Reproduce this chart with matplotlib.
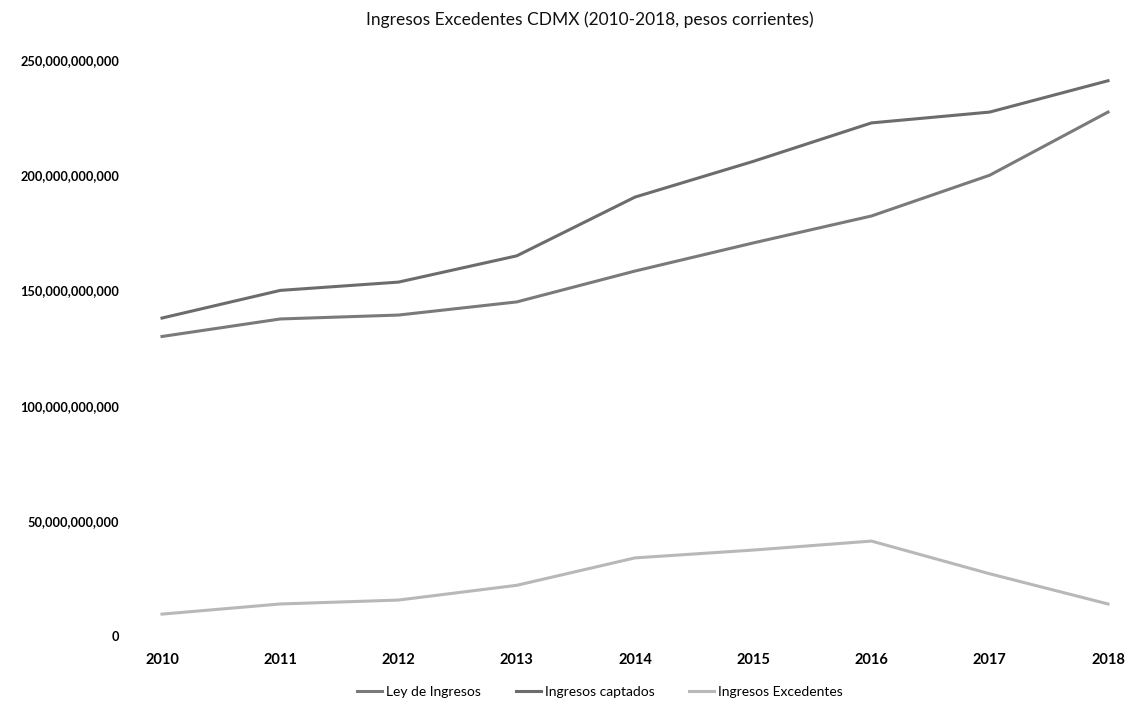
import matplotlib.pyplot as plt
from matplotlib.ticker import FuncFormatter

plt.rcParams['font.family'] = ['Lato', 'DejaVu Sans']

years = [2010, 2011, 2012, 2013, 2014, 2015, 2016, 2017, 2018]
ley_ingresos = [130.0, 137.6, 139.3, 145.0, 158.4, 170.6, 182.3, 200.0, 227.4]
ingresos_captados = [138.0, 150.0, 153.6, 165.0, 190.5, 206.0, 222.7, 227.4, 241.0]
ingresos_excedentes = [9.5, 13.9, 15.6, 22.0, 33.9, 37.3, 41.2, 27.0, 13.9]

# values in miles de millones
to_pesos = 1e9

fig = plt.figure(figsize=(11.29, 7.06), dpi=100)
ax = fig.add_axes([162/1129, 1 - 636/706, (1108 - 162)/1129, (636 - 60)/706])

ax.plot(years, [v*to_pesos for v in ley_ingresos], color="#7a7a7a", lw=2.2,
        label="Ley de Ingresos", clip_on=False)
ax.plot(years, [v*to_pesos for v in ingresos_captados], color="#6c6c6c", lw=2.2,
        label="Ingresos captados", clip_on=False)
ax.plot(years, [v*to_pesos for v in ingresos_excedentes], color="#b8b8b8", lw=2.2,
        label="Ingresos Excedentes", clip_on=False)

ax.set_xlim(2010, 2018)
ax.set_ylim(0, 250e9)
ax.set_xticks(years)
ax.set_yticks([0, 50e9, 100e9, 150e9, 200e9, 250e9])
ax.yaxis.set_major_formatter(FuncFormatter(lambda v, p: f"{int(v):,}"))
ax.tick_params(length=0)
ax.tick_params(axis='y', pad=31, labelsize=9.2)
ax.tick_params(axis='x', pad=12, labelsize=10.5)
for lab in ax.get_xticklabels() + ax.get_yticklabels():
    lab.set_fontweight("bold")
for s in ax.spines.values():
    s.set_visible(False)

fig.suptitle("Ingresos Excedentes CDMX (2010-2018, pesos corrientes)",
             x=590/1129, y=1 - 20/706, va="center", fontsize=12.5, color="#111111")

fig.legend(loc="center", bbox_to_anchor=(600/1129, 1 - 692/706), ncol=3,
           frameon=False, fontsize=10, handlelength=1.8, handletextpad=0.3,
           columnspacing=2.5)

fig.savefig("out.png", dpi=100)
